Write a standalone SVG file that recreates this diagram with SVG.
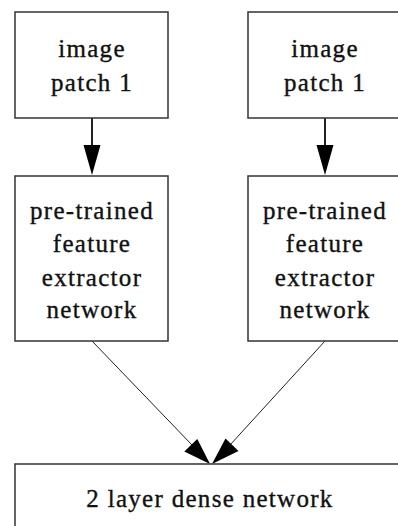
<svg xmlns="http://www.w3.org/2000/svg" width="398" height="526" viewBox="0 0 398 526">
<style>
.box{fill:#fff;stroke:#333;stroke-width:1.5}
.t{font-family:"Liberation Serif","Times New Roman",serif;font-size:25px;fill:#111;stroke:#111;stroke-width:0.35;text-anchor:middle;letter-spacing:1.3px}
.e{stroke:#222;fill:none}
.h{fill:#000;stroke:none}
</style>
<rect width="398" height="526" fill="#fff"/>
<g id="connectors">
<line class="e" x1="92" y1="118" x2="92" y2="146" stroke-width="2"/>
<polygon class="h" points="83.5,145 100.5,145 92,175"/>
<line class="e" x1="325" y1="118" x2="325" y2="146" stroke-width="2" stroke="#555"/>
<polygon class="h" points="316.5,145 333.5,145 325,175"/>
<line class="e" x1="92" y1="341" x2="192" y2="445" stroke-width="1"/>
<polygon class="h" points="184.3,451.5 197.3,439 210,464"/>
<line class="e" x1="325" y1="341" x2="230" y2="445" stroke-width="1"/>
<polygon class="h" points="225.5,438.5 238.5,451 212,464"/>
</g>
<g id="patch1">
<rect class="box" x="15" y="12" width="153" height="106"/>
<text class="t" x="92" y="57">image</text>
<text class="t" x="92" y="91">patch 1</text>
</g>
<g id="patch2">
<rect class="box" x="248" y="12" width="156" height="106"/>
<text class="t" x="325" y="57">image</text>
<text class="t" x="325" y="91">patch 1</text>
</g>
<g id="extractor1">
<rect class="box" x="15" y="176" width="153" height="165"/>
<text class="t" x="92" y="219">pre-trained</text>
<text class="t" x="92" y="252">feature</text>
<text class="t" x="92" y="286">extractor</text>
<text class="t" x="92" y="318">network</text>
</g>
<g id="extractor2">
<rect class="box" x="248" y="176" width="156" height="165"/>
<text class="t" x="325" y="219">pre-trained</text>
<text class="t" x="325" y="252">feature</text>
<text class="t" x="325" y="286">extractor</text>
<text class="t" x="325" y="318">network</text>
</g>
<g id="dense">
<rect class="box" x="15" y="464" width="400" height="80"/>
<text class="t" x="210" y="507">2 layer dense network</text>
</g>
</svg>
